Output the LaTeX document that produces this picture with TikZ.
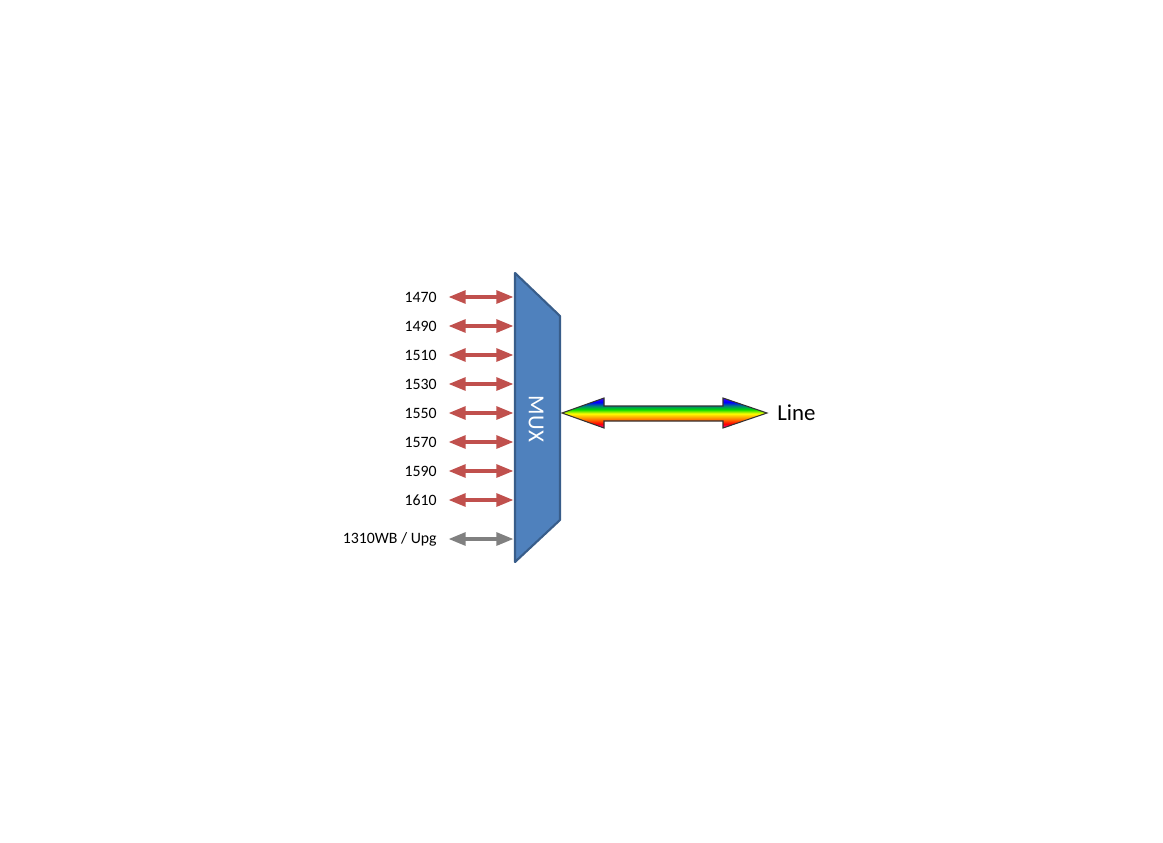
\documentclass[tikz,border=0pt]{standalone}
\usepackage{fontspec}
\setmainfont{Carlito}
\usetikzlibrary{arrows.meta}
% arco iris para la linea
\pgfdeclareverticalshading{rainbow}{100bp}{color(0bp)=(magenta!70!red); color(25bp)=(magenta!70!red); color(32bp)=(red); color(40bp)=(orange); color(49bp)=(yellow); color(56bp)=(green!85!black); color(62bp)=(green!50!blue); color(68bp)=(blue); color(75bp)=(blue!75!magenta); color(100bp)=(blue!75!magenta)}
\begin{document}
\begin{tikzpicture}[x=0.02cm,y=-0.02cm,
    wlarrow/.style={line width=2.8pt,{Triangle[length=10pt,width=7pt]}-{Triangle[length=10pt,width=7pt]}},
    lbl/.style={anchor=east,inner sep=0pt,font=\fontsize{9}{11}\selectfont}]
        %colores
        \definecolor{wred}{HTML}{C0504D}
        \definecolor{wgray}{HTML}{808080}
        \definecolor{muxfill}{HTML}{4F81BD}
        \definecolor{muxline}{HTML}{385D8A}

        \useasboundingbox (0,0) rectangle (1163,842);

        % mux
        \coordinate (mux tl) at (515,273);
        \coordinate (mux tr) at (560,316);
        \coordinate (mux br) at (560,520);
        \coordinate (mux bl) at (515,562);
        \filldraw[fill=muxfill,draw=muxline,line width=1.2pt,line join=round]
            (mux tl) -- (mux tr) -- (mux br) -- (mux bl) -- cycle;
        \node[white,rotate=-90,font=\fontsize{13}{15}\selectfont] (mux) at (536,419) {MUX};

        % longitudes de onda
        \foreach \y/\wl in {297/1470,326/1490,355/1510,384/1530,413/1550,442/1570,471/1590,500/1610}
        {
            \node[lbl] (l\wl) at (437,\y) {\wl};
            \coordinate (a\wl) at (448,\y);
            \coordinate (m\wl) at (514,\y);
            \draw[wlarrow,wred] (a\wl) -- (m\wl);
        }
        \node[lbl] (lupg) at (437,539) {1310WB / Upg};
        \coordinate (aupg) at (448,539);
        \coordinate (mupg) at (514,539);
        \draw[wlarrow,wgray] (aupg) -- (mupg);

        % linea
        \coordinate (line l) at (562,413);
        \coordinate (line r) at (767,413);
        \shade[shading=rainbow,draw=black!80,line width=0.6pt,line join=miter]
            (line l) -- (604,398) -- (604,406) -- (723,406) -- (723,398) -- (line r)
            -- (723,428) -- (723,421) -- (604,421) -- (604,428) -- cycle;
        \node[anchor=west,inner sep=0pt,font=\fontsize{13}{15}\selectfont] (line) at (777,413) {Line};
\end{tikzpicture}
\end{document}
